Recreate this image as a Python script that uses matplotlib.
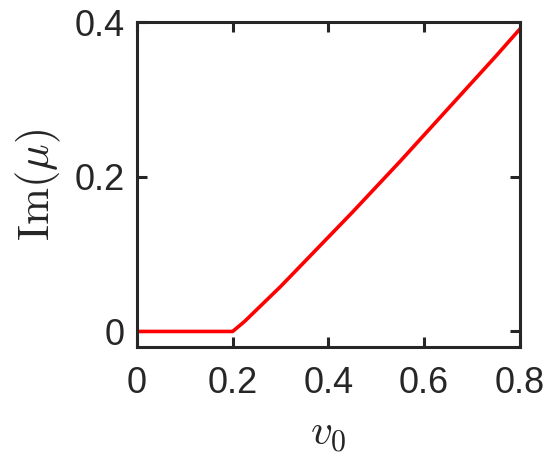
import numpy as np
import matplotlib
matplotlib.use("Agg")
import matplotlib.pyplot as plt

# Data
v0 = [0.0, 0.2, 0.225, 0.25, 0.3, 0.35, 0.4, 0.45, 0.5, 0.55, 0.6, 0.65, 0.7, 0.75, 0.8]
im_mu = [0.0, 0.0, 0.013, 0.028, 0.058, 0.090, 0.122, 0.154, 0.187, 0.220, 0.254, 0.288, 0.322, 0.356, 0.391]

xticks = [0, 0.2, 0.4, 0.6, 0.8]
xticklabels = ["0", "0.2", "0.4", "0.6", "0.8"]
yticks = [0, 0.2, 0.4]
yticklabels = ["0", "0.2", "0.4"]

plt.rcParams['font.family'] = ['Liberation Sans', 'DejaVu Sans']
plt.rcParams['mathtext.fontset'] = 'cm'

fig = plt.figure(figsize=(5.5, 4.72), dpi=100)
ax = fig.add_axes([0.249, 0.265, 0.696, 0.688])

ax.plot(v0, im_mu, color='#ff0000', lw=2.6, solid_joinstyle='round')

ax.set_xlim(0, 0.8)
ax.set_ylim(-0.02, 0.4)
ax.set_xticks(xticks)
ax.set_xticklabels(xticklabels)
ax.set_yticks(yticks)
ax.set_yticklabels(yticklabels)

dark = '#262626'
for s in ax.spines.values():
    s.set_linewidth(2.2)
    s.set_color(dark)
ax.tick_params(direction='in', length=7, width=2.2, color=dark,
               labelcolor=dark, labelsize=26, top=True, right=True)
ax.tick_params(axis='x', pad=14)
ax.tick_params(axis='y', pad=9)

ax.set_xlabel(r'$v_0$', fontsize=31, color=dark, labelpad=10)
ax.set_ylabel(r'$\mathrm{Im}(\mu)$', fontsize=32, color=dark, labelpad=8)

fig.savefig('out.png', dpi=100)
